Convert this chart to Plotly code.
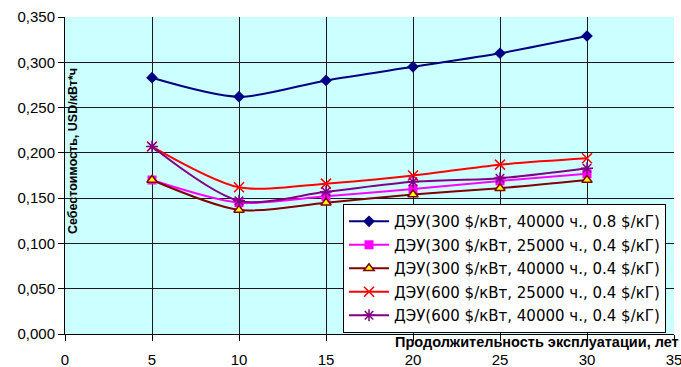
import plotly.graph_objects as go

# Service life, years
years = [5, 10, 15, 20, 25, 30]

# Cost of electricity, USD per kWh, for each plant configuration
names = [
    "ДЭУ(300 $/кВт, 40000 ч., 0.8 $/кГ)",
    "ДЭУ(300 $/кВт, 25000 ч., 0.4 $/кГ)",
    "ДЭУ(300 $/кВт, 40000 ч., 0.4 $/кГ)",
    "ДЭУ(600 $/кВт, 25000 ч., 0.4 $/кГ)",
    "ДЭУ(600 $/кВт, 40000 ч., 0.4 $/кГ)",
]
cost_300_40k_08 = [0.283, 0.262, 0.280, 0.295, 0.310, 0.329]
cost_300_25k_04 = [0.170, 0.145, 0.152, 0.160, 0.169, 0.177]
cost_300_40k_04 = [0.170, 0.137, 0.145, 0.154, 0.161, 0.170]
cost_600_25k_04 = [0.207, 0.162, 0.166, 0.175, 0.187, 0.194]
cost_600_40k_04 = [0.207, 0.147, 0.157, 0.168, 0.172, 0.183]

x_ticks = [0, 5, 10, 15, 20, 25, 30, 35]
y_ticks = [0, 0.05, 0.10, 0.15, 0.20, 0.25, 0.30, 0.35]

series = [cost_300_40k_08, cost_300_25k_04, cost_300_40k_04, cost_600_25k_04, cost_600_40k_04]
styles = [
    dict(line="#000080", marker=dict(symbol="diamond", size=9, color="#000080")),
    dict(line="#FF00FF", marker=dict(symbol="square", size=9, color="#FF00FF")),
    dict(line="#800000", marker=dict(symbol="triangle-up", size=9, color="#FFFF00",
                                     line=dict(color="#800000", width=1.5))),
    dict(line="#FF0000", marker=dict(symbol="x-thin-open", size=10, color="#FF0000",
                                     line=dict(color="#FF0000", width=1.5))),
    dict(line="#800080", marker=dict(symbol="asterisk-open", size=10, color="#800080",
                                     line=dict(color="#800080", width=1.5))),
]

fig = go.Figure()
for i, (name, vals, st) in enumerate(zip(names, series, styles)):
    fig.add_trace(go.Scatter(
        x=years, y=vals, name=name, mode="lines+markers",
        line=dict(color=st["line"], width=2, shape="spline", smoothing=0.8),
        marker=st["marker"], legendgroup=f"g{i}",
    ))

font = "Liberation Sans, Arial, sans-serif"

fig.update_layout(
    width=681, height=367,
    margin=dict(l=65, r=7, t=17, b=33),
    paper_bgcolor="white",
    plot_bgcolor="#CCFFFF",
    separators=", ",
    font=dict(family=font, size=15, color="black"),
    showlegend=True,
    legend=dict(
        x=0.4565, y=0.003, xanchor="left", yanchor="bottom",
        bgcolor="white", bordercolor="black", borderwidth=1,
        font=dict(family="DejaVu Sans, sans-serif", size=15, color="black"),
        tracegroupgap=1, itemwidth=40,
    ),
    xaxis=dict(
        range=[0, 35], tickvals=x_ticks, ticks="outside", ticklen=6,
        tickcolor="black", showline=True, linecolor="black", linewidth=1,
        showgrid=True, gridcolor="#1a1a1a", gridwidth=1, zeroline=False,
        tickfont=dict(size=15), ticklabeloverflow="allow",
        ticklabelstandoff=6, automargin=False, fixedrange=True,
    ),
    yaxis=dict(
        range=[0, 0.35], tickvals=y_ticks, tickformat=".3f", ticks="outside",
        ticklen=6, tickcolor="black", showline=True, linecolor="black",
        linewidth=1, showgrid=True, gridcolor="#1a1a1a", gridwidth=1,
        zeroline=False, tickfont=dict(size=15), ticklabeloverflow="allow",
        automargin=False, fixedrange=True,
    ),
    annotations=[
        dict(text="<b>Себестоимость, USD/кВт*ч</b>", textangle=-90,
             xref="paper", yref="paper", x=0.013, y=0.577,
             xanchor="center", yanchor="middle", showarrow=False,
             font=dict(family=font, size=12.5, color="black")),
        dict(text="<b>Продолжительность эксплуатации, лет</b>",
             xref="paper", yref="paper", x=1.0115, y=-0.025,
             xanchor="right", yanchor="middle", showarrow=False,
             font=dict(family=font, size=14.5, color="black")),
    ],
)

fig.write_html("out.html")
